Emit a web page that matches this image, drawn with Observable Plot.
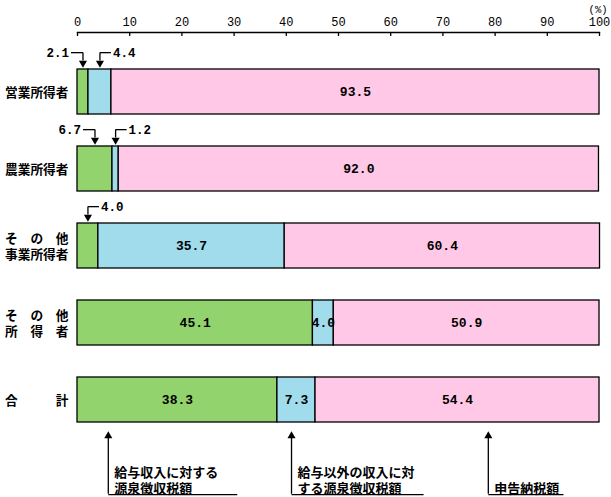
<!DOCTYPE html>
<html><head><meta charset="utf-8">
<script src="https://cdn.jsdelivr.net/npm/d3@7"></script>
<script src="https://cdn.jsdelivr.net/npm/@observablehq/plot@0.6"></script>
<style>body{margin:0;background:#fff}</style>
</head><body><div id="chart"></div>
<script>
// ---- data ----
const categories = ["営業所得者", "農業所得者", "そ　の　他\n事業所得者", "そ　の　他\n所　得　者", "合　　　計"];
const series = ["給与収入に対する源泉徴収税額", "給与以外の収入に対する源泉徴収税額", "申告納税額"];
const wageWithholding = [2.1, 6.7, 4.0, 45.1, 38.3];
const otherWithholding = [4.4, 1.2, 35.7, 4.0, 7.3];
const selfAssessed = [93.5, 92.0, 60.4, 50.9, 54.4];
const xTicks = [0, 10, 20, 30, 40, 50, 60, 70, 80, 90, 100];
const seriesColors = ["#92d36e", "#a0dcec", "#ffc8e6"];
// segments labelled outside the bar with an arrow
const callouts = [
  {category: 0, series: 0, side: "left"},
  {category: 0, series: 1, side: "right"},
  {category: 1, series: 0, side: "left"},
  {category: 1, series: 1, side: "right"},
  {category: 2, series: 0, side: "right"}
];
// legend pointers under the total bar (x in % units)
const legendLabels = ["給与収入に対する\n源泉徴収税額", "給与以外の収入に対\nする源泉徴収税額", "申告納税額"];
const legendPointerX = [5.9, 41.0, 78.7];
const legendLineEndX = [30.6, 66.3, 93.1];

// ---- layout ----
const W = 611, H = 497, ML = 77, MR = 12, MT = 32, MB = 0;
const bandTop = 68.3, step = 77.35, bandH = 45.5, half = bandH / 2;
const k = 100 / (W - ML - MR); // % units per pixel
const lastCenter = bandTop + 4 * step + half;

const values = [wageWithholding, otherWithholding, selfAssessed];
const rows = [];
categories.forEach((c, i) => {
  let acc = 0;
  series.forEach((s, j) => {
    const v = values[j][i];
    const co = callouts.find(d => d.category === i && d.series === j);
    rows.push({category: c, series: s, value: v, start: acc, end: acc + v, mid: acc + v / 2, callout: co ? co.side : null});
    acc += v;
  });
});
const calloutRows = rows.filter(d => d.callout);
calloutRows.forEach(d => { d.hookEnd = d.callout === "left" ? d.mid - 12 * k : d.mid + 11 * k; });
const leftCallouts = calloutRows.filter(d => d.callout === "left");
const rightCallouts = calloutRows.filter(d => d.callout === "right");
const legendRows = legendLabels.map((t, i) => ({label: t, x: legendPointerX[i], end: legendLineEndX[i], category: categories[4]}));

const fmt = v => v.toFixed(1);
const numFont = "'Liberation Mono', 'DejaVu Sans Mono', monospace";
const hookDy = -(half + 16.6);

const chart = Plot.plot({
  width: W, height: H,
  marginLeft: ML, marginRight: MR, marginTop: MT, marginBottom: MB,
  style: {fontFamily: "'Noto Sans CJK JP', sans-serif", background: "#fff", color: "#000"},
  x: {domain: [0, 100], axis: null},
  y: {domain: categories, range: [bandTop, bandTop + 4 * step + bandH], paddingInner: 1 - bandH / step, paddingOuter: 0, axis: null},
  color: {domain: series, range: seriesColors},
  marks: [
    Plot.barX(rows, {x1: "start", x2: "end", y: "category", fill: "series", stroke: "#000", strokeWidth: 1.3}),
    Plot.frame({anchor: "top", strokeWidth: 1.3}),
    Plot.ruleX(xTicks, {x: d => d, insetBottom: H - MT - MB - 4, strokeWidth: 1.3}),
    Plot.axisX(xTicks, {anchor: "top", label: null, tickSize: 0, tickPadding: 7, fontFamily: numFont, fontSize: 12}),
    Plot.axisY({anchor: "left", label: null, tickSize: 0, tickPadding: 9, fontSize: 12.7, fontWeight: "bold", lineHeight: 1.26}),
    Plot.text(rows, {x: "mid", y: "category", text: d => d.callout ? null : fmt(d.value), fontFamily: numFont, fontWeight: "bold", fontSize: 13}),
    // callouts
    Plot.tickX(calloutRows, {x: "mid", y: "category", insetTop: -16.6, insetBottom: bandH + 8, strokeWidth: 1.3}),
    Plot.dot(calloutRows, {x: "mid", y: "category", symbol: "triangle", rotate: 180, r: 3, fill: "#000", stroke: null, dy: -(half + 6.2)}),
    Plot.link(calloutRows, {x1: "mid", x2: "hookEnd", y1: "category", y2: "category", dy: hookDy, strokeWidth: 1.3}),
    Plot.text(leftCallouts, {x: "hookEnd", y: "category", text: d => fmt(d.value), textAnchor: "end", dx: -2, dy: hookDy, fontFamily: numFont, fontWeight: "bold", fontSize: 12.5}),
    Plot.text(rightCallouts, {x: "hookEnd", y: "category", text: d => fmt(d.value), textAnchor: "start", dx: 2, dy: hookDy, fontFamily: numFont, fontWeight: "bold", fontSize: 12.5}),
    // legend pointers
    Plot.tickX(legendRows, {x: "x", y: "category", insetTop: bandH + 14, insetBottom: -(H - 2 - (bandTop + 4 * step + bandH)), strokeWidth: 1.3}),
    Plot.dot(legendRows, {x: "x", y: "category", symbol: "triangle", r: 3, fill: "#000", stroke: null, dy: half + 13.2}),
    Plot.link(legendRows, {x1: "x", x2: "end", y1: "category", y2: "category", dy: H - 2 - lastCenter, strokeWidth: 1.3}),
    Plot.text(legendRows, {x: "x", y: "category", text: "label", textAnchor: "start", lineAnchor: "bottom", lineHeight: 1.2, dx: 6, dy: 493 - lastCenter, fontSize: 13, fontWeight: "bold"}),
    Plot.text(["(%)"], {frameAnchor: "top-right", text: d => d, textAnchor: "end", dx: 8, dy: -27, fontFamily: numFont, fontSize: 10.5})
  ]
});
document.getElementById("chart").appendChild(chart);
</script>
</body></html>
